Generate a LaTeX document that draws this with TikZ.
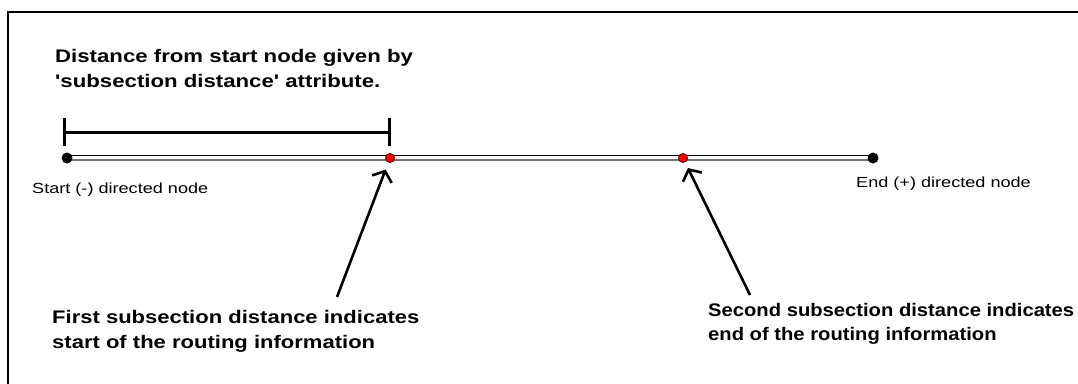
\documentclass[tikz,border=0pt]{standalone}
\usepackage{fontspec}
\setmainfont{Liberation Sans}[Ligatures=TeXOff]
\usepackage{graphicx}
\usetikzlibrary{arrows.meta,backgrounds}
\newcommand{\hstretch}[2]{\scalebox{#1}[1]{#2}}
\begin{document}
\begin{tikzpicture}[x=1pt,y=-1pt,
  enddot/.style={circle,fill=black,inner sep=0pt,minimum size=11pt},
  reddot/.style={circle,fill=red,draw=red!45!black,line width=0.9pt,inner sep=0pt,minimum size=9pt},
  dimline/.style={line width=3pt},
  pointer/.style={line width=2.6pt,-{Straight Barb[length=8.5pt,width=21pt,line width=2.6pt]}},
  lbl/.style={inner sep=0pt,anchor=west,text=black}
]
\useasboundingbox (0,0) rectangle (1078,383);
\begin{scope}[on background layer]
  \fill[white] (0,0) rectangle (1078,383);
\end{scope}
% frame
\draw[line width=2.2pt] (8,384) -- (8,12) -- (1079,12);

% nodes on the line
\node[enddot] (s) at (67,158) {};
\node[enddot] (e) at (873,158) {};
\node[reddot] (r1) at (390,158) {};
\node[reddot] (r2) at (683,158) {};

\begin{scope}[on background layer]
  \draw[line width=1.4pt,black] ([yshift=2.4pt]s.center) -- ([yshift=2.4pt]e.center);
  \draw[line width=1.8pt,black!55] ([yshift=-2.3pt]s.center) -- ([yshift=-2.3pt]e.center);
\end{scope}

% dimension bar
\coordinate (d1) at (64,132);
\coordinate (d2) at (389,132);
\draw[dimline] (d1) -- (d2);
\draw[dimline] ([yshift=14pt]d1) -- ([yshift=-14pt]d1);
\draw[dimline] ([yshift=14pt]d2) -- ([yshift=-14pt]d2);

% title
\node[lbl] (title) at (55,70) {\hstretch{1.22}{\fontsize{18.2}{25}\selectfont\bfseries
  \begin{tabular}{@{}l@{}}Distance from start node given by\\'subsection distance' attribute.\end{tabular}}};

% end labels
\node[lbl] (slbl) at (32,190) {\hstretch{1.24}{\fontsize{14.6}{17}\selectfont Start (-) directed node}};
\node[lbl] (elbl) at (856,184) {\hstretch{1.24}{\fontsize{14.6}{17}\selectfont End (+) directed node}};

% bottom labels
\node[lbl] (b1) at (52,331) {\hstretch{1.21}{\fontsize{18.2}{25}\selectfont\bfseries
  \begin{tabular}{@{}l@{}}First subsection distance indicates\\start of the routing information\end{tabular}}};
\node[lbl] (b2) at (708,324) {\hstretch{1.11}{\fontsize{18.2}{24}\selectfont\bfseries
  \begin{tabular}{@{}l@{}}Second subsection distance indicates\\end of the routing information\end{tabular}}};

% pointers
\coordinate (t1) at (337,297);
\coordinate (t2) at (750,295);
\draw[pointer,shorten >=7.5pt] (t1) -- (r1);
\draw[pointer,shorten >=6.2pt] (t2) -- (r2);
\end{tikzpicture}
\end{document}
